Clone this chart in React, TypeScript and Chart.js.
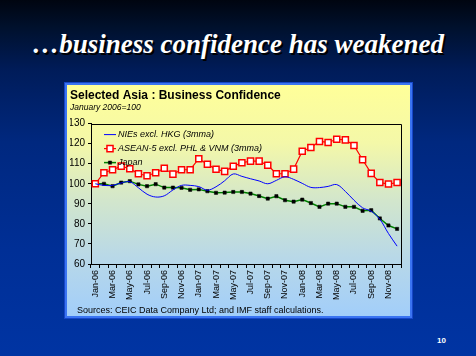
import React, { useEffect, useRef } from "react";
import { Chart, registerables } from "chart.js";

Chart.register(...registerables);

const months = [
  "Jan-06", "Feb-06", "Mar-06", "Apr-06", "May-06", "Jun-06", "Jul-06", "Aug-06", "Sep-06", "Oct-06", "Nov-06", "Dec-06",
  "Jan-07", "Feb-07", "Mar-07", "Apr-07", "May-07", "Jun-07", "Jul-07", "Aug-07", "Sep-07", "Oct-07", "Nov-07", "Dec-07",
  "Jan-08", "Feb-08", "Mar-08", "Apr-08", "May-08", "Jun-08", "Jul-08", "Aug-08", "Sep-08", "Oct-08", "Nov-08", "Dec-08",
];

const niesValues = [
  100, 99.2, 99.2, 100.4, 101, 98, 94.8, 93.4, 94, 96.9, 99.2, 99.2,
  98.6, 96.8, 98.5, 101.5, 104.9, 103.7, 102.5, 101.4, 100, 101.7, 103.5, 102.2,
  100.2, 98.2, 98.1, 98.7, 99.6, 96.2, 91.8, 88, 86.3, 82.3, 75.2, 68.9,
];

const aseanValues = [
  100, 105.5, 107, 108.8, 107.5, 105, 104, 105.5, 107.7, 104.8, 107, 107,
  112.5, 109.7, 107.2, 106.2, 108.7, 110.5, 111.3, 111.3, 109.2, 105, 105, 107.3,
  116.2, 118.1, 121.1, 120.6, 122.2, 121.9, 119.1, 112, 105.2, 100.6, 99.9, 100.6,
];

const japanValues = [
  100, 100, 98.8, 100.6, 101.3, 99.7, 98.8, 99.8, 98.1, 98.1, 98, 97,
  97.2, 96.3, 95.5, 95.6, 95.9, 95.9, 95.1, 93.9, 92.6, 93.8, 91.8, 91.1,
  92.1, 90.4, 88.5, 90.1, 90.1, 88.5, 88.5, 86.5, 86.8, 82.7, 79.2, 77.5,
];

const seriesLabels = [
  "NIEs excl. HKG (3mma)",
  "ASEAN-5 excl. PHL & VNM (3mma)",
  "Japan",
];

const yTicks = { min: 60, max: 130, step: 10 };

const FONT = '"Liberation Sans", Arial, sans-serif';

const frameLines = {
  id: "frameLines",
  afterDraw(chart: any) {
    const { ctx, chartArea } = chart;
    ctx.save();
    ctx.strokeStyle = "#000";
    ctx.lineWidth = 1;
    ctx.beginPath();
    ctx.moveTo(Math.round(chartArea.left), Math.round(chartArea.top) + 0.5);
    ctx.lineTo(Math.round(chartArea.right) + 0.5, Math.round(chartArea.top) + 0.5);
    ctx.lineTo(Math.round(chartArea.right) + 0.5, Math.round(chartArea.bottom));
    ctx.stroke();
    ctx.restore();
  },
};

const insideLegend = {
  id: "insideLegend",
  afterDatasetsDraw(chart: any) {
    const { ctx, chartArea } = chart;
    const x0 = chartArea.left + 13;
    let y = chartArea.top + 11;
    chart.data.datasets.forEach((ds: any) => {
      ctx.save();
      ctx.strokeStyle = ds.borderColor;
      ctx.lineWidth = ds.borderWidth;
      ctx.beginPath();
      ctx.moveTo(x0, y);
      ctx.lineTo(x0 + 12, y);
      ctx.stroke();
      if (ds.pointRadius > 0) {
        const half = ds.pointRadius * Math.SQRT1_2;
        ctx.fillStyle = ds.pointBackgroundColor;
        ctx.strokeStyle = ds.pointBorderColor;
        ctx.lineWidth = ds.pointBorderWidth;
        ctx.beginPath();
        ctx.rect(x0 + 6 - half, y - half, half * 2, half * 2);
        ctx.fill();
        ctx.stroke();
      }
      ctx.fillStyle = "#000";
      ctx.font = `italic 9px ${FONT}`;
      ctx.textBaseline = "middle";
      ctx.textAlign = "left";
      ctx.fillText(ds.label, x0 + 14, y);
      ctx.restore();
      y += 14;
    });
  },
};

export default function App() {
  const canvasRef = useRef<HTMLCanvasElement>(null);

  useEffect(() => {
    const chart = new Chart(canvasRef.current as HTMLCanvasElement, {
      type: "line",
      data: {
        labels: months,
        datasets: [
          {
            label: seriesLabels[0],
            data: niesValues,
            borderColor: "#0000ff",
            borderWidth: 1,
            pointRadius: 0,
            tension: 0.35,
            fill: false,
          },
          {
            label: seriesLabels[1],
            data: aseanValues,
            borderColor: "#ff0000",
            borderWidth: 1.2,
            pointStyle: "rect",
            pointRadius: 4.3,
            pointBackgroundColor: "#ffffff",
            pointBorderColor: "#ff0000",
            pointBorderWidth: 1.5,
            tension: 0,
            fill: false,
          },
          {
            label: seriesLabels[2],
            data: japanValues,
            borderColor: "#008000",
            borderWidth: 1.5,
            pointStyle: "rect",
            pointRadius: 2.3,
            pointBackgroundColor: "#000000",
            pointBorderColor: "#000000",
            pointBorderWidth: 0.5,
            tension: 0,
            fill: false,
          },
        ] as any,
      },
      options: {
        animation: false,
        responsive: false,
        maintainAspectRatio: false,
        events: [],
        layout: { padding: { left: 3, right: 8, top: 0, bottom: 12 } },
        plugins: {
          legend: { display: false },
          tooltip: { enabled: false },
          title: {
            display: true,
            text: "Selected Asia : Business Confidence",
            align: "start",
            color: "#000",
            font: { family: FONT, size: 12, weight: "bold" },
            padding: { top: 3, bottom: 0 },
          },
          subtitle: {
            display: true,
            text: "January 2006=100",
            align: "start",
            color: "#000",
            font: { family: FONT, size: 8.5, style: "italic" },
            padding: { top: 0, bottom: 11 },
          },
        },
        scales: {
          x: {
            type: "category",
            offset: true,
            grid: {
              display: true,
              offset: true,
              drawOnChartArea: false,
              drawTicks: true,
              tickLength: 4,
              color: "#000",
            },
            border: { display: true, color: "#000", width: 1 },
            ticks: {
              autoSkip: false,
              minRotation: 90,
              maxRotation: 90,
              padding: 2,
              color: "#000",
              font: { family: FONT, size: 9 },
              callback: (_v: any, i: number) => (i % 2 === 0 ? months[i] : ""),
            },
            afterFit: (s: any) => {
              s.height = 40;
            },
          },
          y: {
            min: yTicks.min,
            max: yTicks.max,
            grid: {
              display: true,
              drawOnChartArea: false,
              drawTicks: true,
              tickLength: 3,
              color: "#000",
            },
            border: { display: true, color: "#000", width: 1 },
            ticks: {
              stepSize: yTicks.step,
              padding: 3,
              color: "#000",
              font: { family: FONT, size: 10 },
            },
            afterFit: (s: any) => {
              s.width = 21;
            },
          },
        },
      } as any,
      plugins: [frameLines, insideLegend],
    });
    return () => chart.destroy();
  }, []);

  return (
    <div
      style={{
        position: "fixed",
        left: 0,
        top: 0,
        width: 476,
        height: 356,
        overflow: "hidden",
        background:
          "linear-gradient(180deg, #000510 0%, #00112e 8%, #001c5a 20%, #00287f 40%, #002f96 70%, #0034a3 100%)",
      }}
    >
      <div
        style={{
          position: "absolute",
          left: 0,
          top: 27,
          width: 476,
          textAlign: "center",
          color: "#ffffff",
          font: 'italic bold 27px "Liberation Serif", "Times New Roman", serif',
          lineHeight: "34px",
          whiteSpace: "nowrap",
          textShadow: "2px 2px 0 #000000",
        }}
      >
        …business confidence has weakened
      </div>
      <div
        style={{
          position: "absolute",
          left: 64,
          top: 82,
          width: 349,
          height: 237,
          boxSizing: "border-box",
          border: "1px solid #1646c8",
        }}
      />
      <div
        style={{
          position: "absolute",
          left: 65,
          top: 83,
          width: 347,
          height: 235,
          boxSizing: "border-box",
          border: "2px solid #3a74f2",
          background: "linear-gradient(180deg, #ffff99 0%, #f4f8a8 25%, #d2e6cc 50%, #b8d8e8 75%, #a2cefa 100%)",
        }}
      >
        <canvas ref={canvasRef} width={343} height={231} style={{ display: "block", width: 343, height: 231 }} />
      </div>
      <div
        style={{
          position: "absolute",
          left: 77,
          top: 304,
          font: `9px ${FONT}`,
          lineHeight: "12px",
          color: "#000",
          whiteSpace: "nowrap",
        }}
      >
        Sources: CEIC Data Company Ltd; and IMF staff calculations.
      </div>
      <div
        style={{
          position: "absolute",
          left: 437,
          top: 336,
          font: `bold 8px ${FONT}`,
          lineHeight: "10px",
          color: "#fff",
        }}
      >
        10
      </div>
    </div>
  );
}
